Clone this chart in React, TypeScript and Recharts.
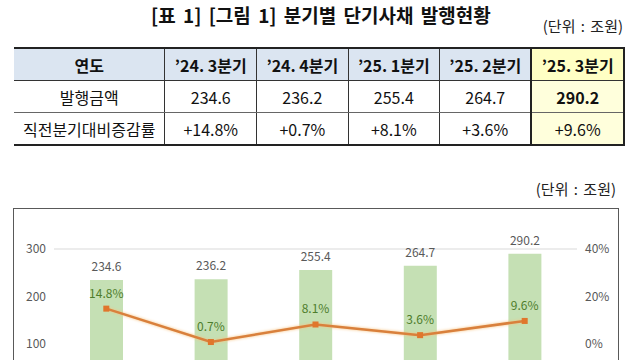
import React from "react";
import { Bar, CartesianGrid, ComposedChart, LabelList, Line, XAxis, YAxis } from "recharts";

const quarters = ["’24. 3분기", "’24. 4분기", "’25. 1분기", "’25. 2분기", "’25. 3분기"];
const amounts = [234.6, 236.2, 255.4, 264.7, 290.2];
const rates = [14.8, 0.7, 8.1, 3.6, 9.6];
// the lowest ticks (0, -20%) sit below the visible area of the reference
const leftTicks = [100, 200, 300];
const rightTicks = [0, 20, 40];

const FONT = "'Noto Sans CJK KR', 'Noto Sans', sans-serif";

const chartData = quarters.map((q, i) => ({ quarter: q, amount: amounts[i], rate: rates[i] }));

const thin = "1px solid #333";
const thick = "2px solid #222";

function Square(props: any) {
  const { cx, cy, index } = props;
  if (cx == null || cy == null) return null;
  return <rect key={index} x={cx - 3} y={cy - 3} width={6} height={6} fill="#e0762c" />;
}

function DataTable() {
  const last = quarters.length - 1;
  const cell = (i: number, header: boolean): React.CSSProperties => ({
    width: 92,
    textAlign: "center",
    padding: 0,
    height: 31,
    borderLeft: i === last ? thick : thin,
    borderRight: i === last ? thick : "none",
    borderBottom: header ? thin : "1px solid #666",
    background: header ? (i === last ? "#ffffc4" : "#dbe5f1") : i === last ? "#ffffdc" : "#fff",
    fontWeight: header ? 700 : 400,
  });
  return (
    <table
      style={{
        position: "absolute",
        left: 14,
        top: 47,
        width: 611,
        borderCollapse: "collapse",
        fontFamily: FONT,
        fontSize: 16,
        color: "#111",
        borderTop: thick,
        borderBottom: thick,
      }}
    >
      <tbody>
        <tr>
          <td style={{ width: 151, textAlign: "center", fontWeight: 700, background: "#dbe5f1", borderBottom: thin, height: 31, padding: 0 }}>
            연도
          </td>
          {quarters.map((q, i) => (
            <td key={q} style={cell(i, true)}>{q}</td>
          ))}
        </tr>
        <tr>
          <td style={{ textAlign: "center", borderBottom: "1px solid #666", height: 31, padding: 0 }}>발행금액</td>
          {amounts.map((v, i) => (
            <td key={i} style={{ ...cell(i, false), fontWeight: i === last ? 700 : 400 }}>{v.toFixed(1)}</td>
          ))}
        </tr>
        <tr>
          <td style={{ textAlign: "center", height: 31, padding: 0, whiteSpace: "nowrap" }}>직전분기대비증감률</td>
          {rates.map((v, i) => (
            <td key={i} style={{ ...cell(i, false), borderBottom: "none" }}>+{v.toFixed(1)}%</td>
          ))}
        </tr>
      </tbody>
    </table>
  );
}

export default function App() {
  const tick = { fill: "#595959", fontSize: 12, fontFamily: FONT };
  return (
    <div style={{ position: "absolute", left: 0, top: 0, width: 640, height: 360, overflow: "hidden", background: "#fff", fontFamily: FONT }}>
      <div
        style={{
          position: "absolute",
          top: 1,
          left: 151,
          whiteSpace: "nowrap",
          fontSize: 19,
          fontWeight: 700,
          wordSpacing: 3,
          color: "#111",
        }}
      >
        [표 1] [그림 1] 분기별 단기사채 발행현황
      </div>
      <div style={{ position: "absolute", right: 17, top: 15, fontSize: 15, wordSpacing: 2, color: "#222" }}>(단위 : 조원)</div>
      <DataTable />
      <div style={{ position: "absolute", right: 24, top: 178, fontSize: 15, wordSpacing: 2, color: "#222" }}>(단위 : 조원)</div>
      <div style={{ position: "absolute", left: 13, top: 208, width: 606, height: 260, border: "1px solid #595959", boxSizing: "border-box" }}>
        <ComposedChart width={604} height={240} data={chartData} margin={{ top: 40, right: 0, bottom: 28, left: 0 }}>
          <CartesianGrid vertical={false} stroke="#d9d9d9" />
          <XAxis dataKey="quarter" tick={false} axisLine={{ stroke: "#d9d9d9" }} tickLine={false} height={30} />
          <YAxis yAxisId="left" domain={[0, 300]} ticks={leftTicks} tick={tick} axisLine={false} tickLine={false} width={40} />
          <YAxis
            yAxisId="right"
            orientation="right"
            domain={[-20, 40]}
            ticks={rightTicks}
            tick={tick}
            axisLine={false}
            tickLine={false}
            width={41}
            tickFormatter={(v) => `${v}%`}
          />
          <Bar yAxisId="left" dataKey="amount" fill="#c5e0b4" barSize={33} isAnimationActive={false}>
            <LabelList dataKey="amount" position="top" offset={9} fill="#595959" fontSize={12} fontFamily={FONT} formatter={(v: any) => Number(v).toFixed(1)} />
          </Bar>
          <Line
            yAxisId="right"
            dataKey="rate"
            stroke="#d9803c"
            strokeWidth={2.5}
            dot={Square}
            activeDot={false}
            isAnimationActive={false}
            style={{ filter: "drop-shadow(0 0 1.5px #f7c27f)" }}
          >
            <LabelList dataKey="rate" position="top" offset={11} fill="#4e7d2c" fontSize={12} fontFamily={FONT} formatter={(v: any) => `${Number(v).toFixed(1)}%`} />
          </Line>
        </ComposedChart>
      </div>
    </div>
  );
}
